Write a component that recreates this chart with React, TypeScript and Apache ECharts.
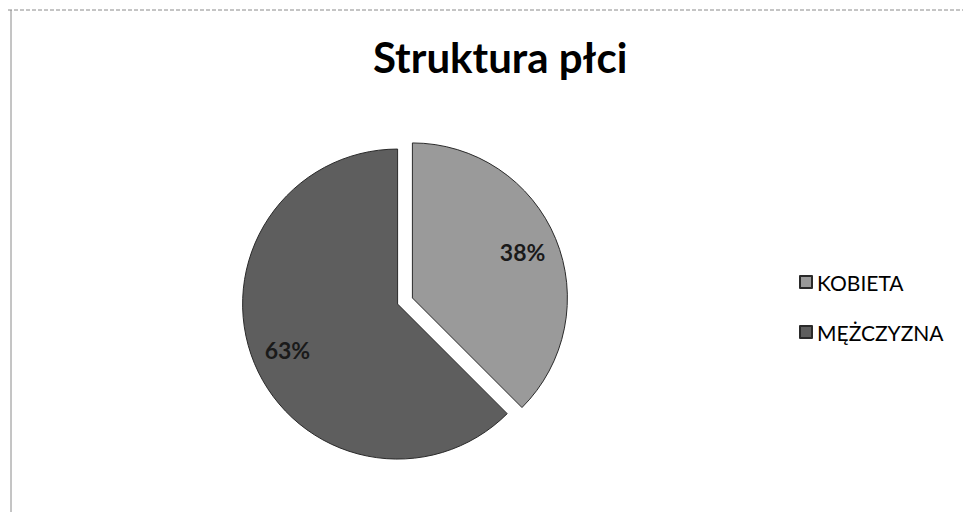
import React, { useEffect, useRef } from "react";
import * as echarts from "echarts";

const titleText = "Struktura płci";
const categories = ["KOBIETA", "MĘŻCZYZNA"];
const values = [37.5, 62.5];
const sliceColors = ["#9a9a9a", "#5e5e5e"];

export default function App() {
  const ref = useRef<HTMLDivElement>(null);
  useEffect(() => {
    if (!ref.current) return;
    const chart = echarts.init(ref.current, undefined, { renderer: "svg" });
    const font = "Lato, 'Open Sans', sans-serif";
    const center = [405, 301];
    const outer = 155;
    const pieData = categories.map((name, i) => ({
      name,
      value: values[i],
      selected: true,
      itemStyle: { color: sliceColors[i] },
    }));
    const labelData = categories.map((name, i) => ({
      name,
      value: values[i],
      selected: true,
      itemStyle: { color: "rgba(0,0,0,0)", borderWidth: 0 },
    }));
    chart.setOption({
      animation: false,
      backgroundColor: "#ffffff",
      title: {
        text: titleText,
        left: 368,
        top: 31,
        textStyle: { fontFamily: font, fontWeight: "bold", fontSize: 42, color: "#000000" },
      },
      legend: {
        orient: "vertical",
        left: 794,
        top: 265,
        itemWidth: 12,
        itemHeight: 12,
        itemGap: 26,
        icon: "rect",
        data: categories,
        selectedMode: false,
        textStyle: { fontFamily: font, fontSize: 21, color: "#000000", lineHeight: 24 },
      },
      graphic: [
        {
          type: "line",
          shape: { x1: 8, y1: 10, x2: 963, y2: 10 },
          style: { stroke: "#8a8a8a", lineWidth: 1, lineDash: [4, 2] },
          silent: true,
        },
        {
          type: "line",
          shape: { x1: 11, y1: 10, x2: 11, y2: 512 },
          style: { stroke: "#8a8a8a", lineWidth: 1 },
          silent: true,
        },
      ],
      series: [
        {
          type: "pie",
          center,
          radius: [0, outer],
          startAngle: 90,
          clockwise: true,
          selectedMode: "multiple",
          selectedOffset: 8,
          silent: true,
          label: { show: false },
          labelLine: { show: false },
          itemStyle: { borderColor: "#2a2a2a", borderWidth: 1 },
          data: pieData,
        },
        {
          type: "pie",
          center,
          radius: [outer / 2, outer],
          startAngle: 90,
          clockwise: true,
          selectedMode: "multiple",
          selectedOffset: 8,
          silent: true,
          label: {
            show: true,
            position: "inside",
            formatter: (p: any) => `${Math.round(p.value)}%`,
            fontFamily: font,
            fontWeight: "bold",
            fontSize: 23,
            color: "#1a1a1a",
          },
          labelLine: { show: false },
          data: labelData,
        },
      ],
    });
    return () => chart.dispose();
  }, []);
  return (
    <div
      ref={ref}
      style={{ position: "fixed", left: 0, top: 0, width: 963, height: 514 }}
    />
  );
}
